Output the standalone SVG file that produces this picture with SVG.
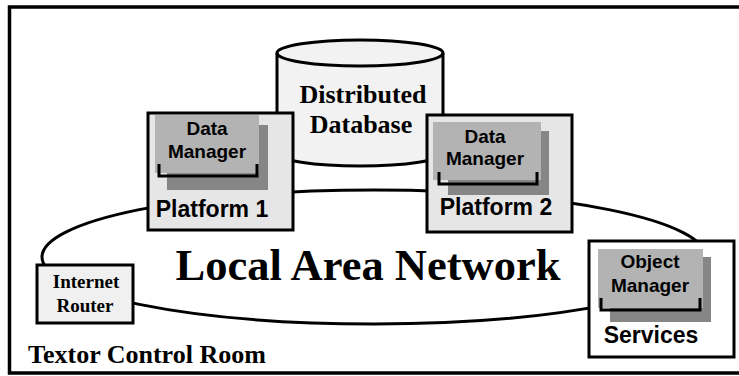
<svg xmlns="http://www.w3.org/2000/svg" width="739" height="376" viewBox="0 0 739 376">
  <style>
    .frame { fill: #ffffff; stroke: #000; stroke-width: 3.5; }
    .box { stroke: #000; stroke-width: 3; }
    .plat { fill: #e6e6e6; }
    .lan { fill: none; stroke: #000; stroke-width: 3; }
    .mgr { fill: #b3b3b3; }
    .shadow { fill: #868686; }
    .bracket { fill: none; stroke: #000; stroke-width: 3; }
    .sans { font-family: "Liberation Sans", Arial, sans-serif; font-weight: bold; fill: #000; text-anchor: middle; }
    .serif { font-family: "Liberation Serif", "Times New Roman", serif; font-weight: bold; fill: #000; text-anchor: middle; }
  </style>

  <!-- room boundary -->
  <rect class="frame" x="9.5" y="7" width="745" height="366"/>
  <text class="serif" x="28" y="363" font-size="26" style="text-anchor:start">Textor Control Room</text>

  <!-- network ring -->
  <g id="connectors">
    <ellipse class="lan" cx="374" cy="257" rx="332" ry="67"/>
  </g>

  <g id="lan-label">
    <text class="serif" x="368" y="280" font-size="44.5">Local Area Network</text>
  </g>

  <!-- shared database -->
  <g id="database">
    <path class="box" fill="#f2f2f2" d="M277,53 V153 A83,13 0 0 0 443,153 V53 A83,13 0 0 0 277,53 Z"/>
    <path class="box" fill="none" d="M277,53 A83,13 0 0 0 443,53"/>
    <text class="serif" x="363" y="103" font-size="26">Distributed</text>
    <text class="serif" x="361" y="133" font-size="26">Database</text>
  </g>

  <!-- platform 1 -->
  <g id="platform1">
    <rect class="box plat" x="148" y="113" width="145" height="117"/>
    <rect class="shadow" x="167" y="125" width="101" height="65"/>
    <rect class="mgr" x="155" y="115" width="104" height="58"/>
    <path class="bracket" d="M159,164 V176 H257 V164"/>
    <text class="sans" x="207" y="135" font-size="19">Data</text>
    <text class="sans" x="207" y="158" font-size="19">Manager</text>
    <text class="sans" x="212" y="217" font-size="23">Platform 1</text>
  </g>

  <!-- platform 2 -->
  <g id="platform2">
    <rect class="box plat" x="427" y="115" width="145" height="117"/>
    <rect class="shadow" x="448" y="131" width="101" height="64"/>
    <rect class="mgr" x="433" y="122" width="108" height="58"/>
    <path class="bracket" d="M439,172 V184 H537 V172"/>
    <text class="sans" x="485" y="143" font-size="19">Data</text>
    <text class="sans" x="485" y="165" font-size="19">Manager</text>
    <text class="sans" x="496" y="215" font-size="23">Platform 2</text>
  </g>

  <!-- internet router -->
  <g id="router">
    <rect class="box" fill="#f0f0f0" x="37" y="265" width="96" height="58"/>
    <text class="serif" x="86" y="288" font-size="19">Internet</text>
    <text class="serif" x="85" y="312" font-size="19">Router</text>
  </g>

  <!-- services -->
  <g id="services">
    <rect class="box" fill="#ffffff" x="589" y="241" width="145" height="116"/>
    <rect class="shadow" x="610" y="257" width="101" height="65"/>
    <rect class="mgr" x="598" y="249" width="105" height="59"/>
    <path class="bracket" d="M601,298 V310 H700 V298"/>
    <text class="sans" x="650" y="268" font-size="19">Object</text>
    <text class="sans" x="650" y="292" font-size="19">Manager</text>
    <text class="sans" x="651" y="343" font-size="23">Services</text>
  </g>
</svg>
